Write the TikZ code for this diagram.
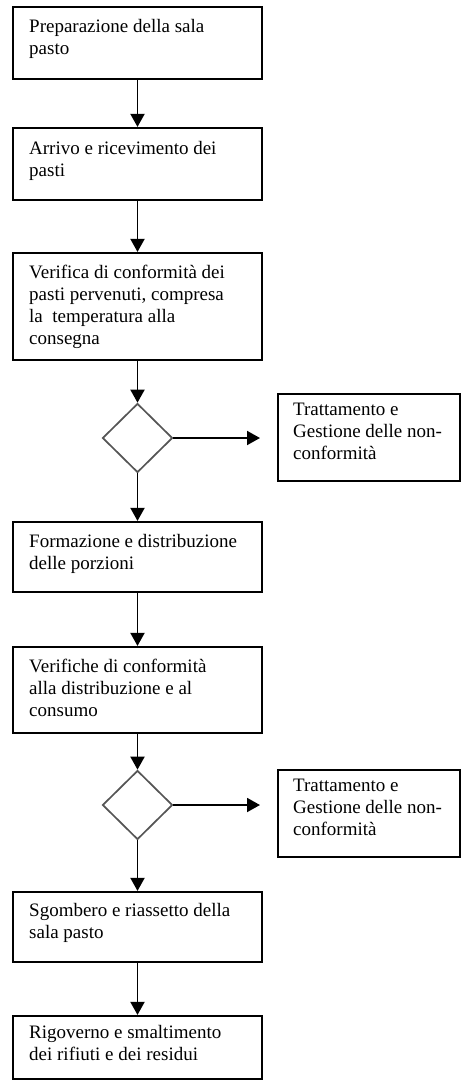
\documentclass[tikz,border=0pt]{standalone}
\usepackage{fontspec}
\setmainfont{Liberation Serif}
\usetikzlibrary{arrows.meta,shapes.geometric}
\definecolor{dgray}{RGB}{85,85,85}
\tikzset{
  stepbox/.style={draw=black, line width=2.2pt, inner sep=0pt, minimum width=249pt},
  sidebox/.style={draw=black, line width=2.4pt, inner sep=0pt, minimum width=182pt, minimum height=87pt},
  txt/.style={anchor=north west, inner sep=0pt, align=left, font=\fontsize{19}{22}\selectfont},
  decision/.style={diamond, draw=dgray, line width=1.7pt, minimum width=70pt, minimum height=69pt, inner sep=0pt},
  flow/.style={line width=1.9pt, -{Triangle[width=14pt,length=13pt]}}
}
\begin{document}
\begin{tikzpicture}[x=1pt,y=-1pt]
\useasboundingbox (0,0) rectangle (462,1081);
% boxes
\node[stepbox, minimum height=72pt] (b1) at (137.5,43) {};
\node[stepbox, minimum height=72pt] (b2) at (137.5,164) {};
\node[stepbox, minimum height=107pt] (b3) at (137.5,306.5) {};
\node[decision] (d1) at (137.5,438) {};
\node[sidebox] (s1) at (369,437.5) {};
\node[stepbox, minimum height=70pt] (b4) at (137.5,557) {};
\node[stepbox, minimum height=86pt] (b5) at (137.5,690) {};
\node[decision] (d2) at (137.5,805) {};
\node[sidebox] (s2) at (369,813.5) {};
\node[stepbox, minimum height=70pt] (b6) at (137.5,927) {};
\node[stepbox, minimum height=63pt] (b7) at (137.5,1047.5) {};
% texts
\node[txt] (t1) at (29,19.5) {Preparazione della sala\\pasto};
\node[txt] (t2) at (29,141.5) {Arrivo e ricevimento dei\\pasti};
\node[txt] (t3) at (29,264.5) {Verifica di conformità dei\\pasti pervenuti, compresa\\la\ \ temperatura alla\\consegna};
\node[txt] (ts1) at (293,402.5) {Trattamento e\\Gestione delle non-\\conformità};
\node[txt] (t4) at (29,534.5) {Formazione e distribuzione\\delle porzioni};
\node[txt] (t5) at (29,658.5) {Verifiche di conformità\\alla distribuzione e al\\consumo};
\node[txt] (ts2) at (293,778.5) {Trattamento e\\Gestione delle non-\\conformità};
\node[txt] (t6) at (29,903.5) {Sgombero e riassetto della\\sala pasto};
\node[txt] (t7) at (29,1025.5) {Rigoverno e smaltimento\\dei rifiuti e dei residui};
% free ends of side arrows
\coordinate (e1) at (260,438);
\coordinate (e2) at (260,805);
% connectors
\draw[flow] (b1.south) -- (b2.north);
\draw[flow] (b2.south) -- (b3.north);
\draw[flow] (b3.south) -- (d1.north);
\draw[flow] (d1.east) -- (e1);
\draw[flow] (d1.south) -- (b4.north);
\draw[flow] (b4.south) -- (b5.north);
\draw[flow] (b5.south) -- (d2.north);
\draw[flow] (d2.east) -- (e2);
\draw[flow] (d2.south) -- (b6.north);
\draw[flow] (b6.south) -- (b7.north);
\end{tikzpicture}
\end{document}
